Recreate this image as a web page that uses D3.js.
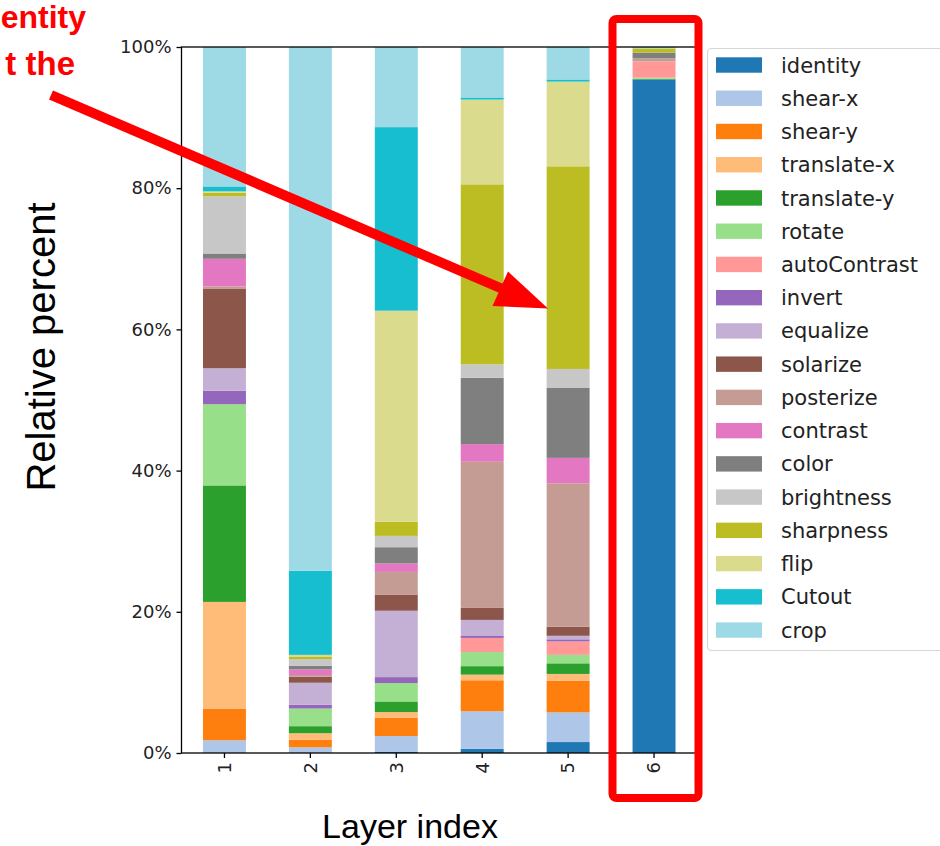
<!DOCTYPE html>
<html>
<head>
<meta charset="utf-8">
<script src="https://cdn.jsdelivr.net/npm/d3@7"></script>
<style>
  html, body { margin: 0; padding: 0; background: #fff; }
  svg { display: block; }
</style>
</head>
<body>
<svg id="chart" width="940" height="846"></svg>
<script>
// ---------------- data ----------------
const layers = ["1", "2", "3", "4", "5", "6"];
const ops = ["identity", "shear-x", "shear-y", "translate-x", "translate-y", "rotate",
  "autoContrast", "invert", "equalize", "solarize", "posterize", "contrast", "color",
  "brightness", "sharpness", "flip", "Cutout", "crop"];

const identity     = [0,     0,    0.2,  0.6,  1.55, 95.4];
const shearX       = [1.8,   0.8,  2.2,  5.3,  4.2,  0];
const shearY       = [4.5,   1.1,  2.6,  4.4,  4.5,  0];
const translateX   = [15.1,  0.9,  0.8,  0.8,  0.95, 0];
const translateY   = [16.5,  1.0,  1.5,  1.2,  1.5,  0.1];
const rotateV      = [11.5,  2.5,  2.6,  2.0,  1.2,  0.15];
const autoContrast = [0,     0,    0,    2.0,  1.9,  2.3];
const invert       = [1.9,   0.55, 0.85, 0.35, 0.3,  0];
const equalize     = [3.2,   3.1,  9.4,  2.2,  0.5,  0];
const solarize     = [11.3,  0.85, 2.3,  1.7,  1.3,  0];
const posterize    = [0.3,   0.25, 3.2,  20.7, 20.3, 0.45];
const contrastV    = [3.9,   0.8,  1.2,  2.5,  3.6,  0];
const colorV       = [0.75,  0.5,  2.3,  9.4,  9.9,  0.8];
const brightness   = [8.1,   0.95, 1.6,  1.9,  2.7,  0];
const sharpness    = [0.5,   0.3,  2.0,  25.5, 28.7, 0.6];
const flip         = [0.2,   0.3,  29.9, 12.0, 12.0, 0];
const cutout       = [0.7,   11.9, 26.0, 0.3,  0.3,  0];
const crop         = [19.75, 74.2, 11.35, 7.15, 4.6, 0.2];

const yTicks = [0, 0.2, 0.4, 0.6, 0.8, 1.0];

// tab20 palette
const palette = ["#1f77b4", "#aec7e8", "#ff7f0e", "#ffbb78", "#2ca02c", "#98df8a",
  "#ff9896", "#9467bd", "#c5b0d5", "#8c564b", "#c49c94", "#e377c2", "#7f7f7f",
  "#c7c7c7", "#bcbd22", "#dbdb8d", "#17becf", "#9edae5"];

const seriesValues = [identity, shearX, shearY, translateX, translateY, rotateV,
  autoContrast, invert, equalize, solarize, posterize, contrastV, colorV,
  brightness, sharpness, flip, cutout, crop];

// table built from arrays
const table = layers.map((l, i) => {
  const row = { layer: l };
  ops.forEach((op, j) => { row[op] = seriesValues[j][i]; });
  return row;
});

// ---------------- layout ----------------
const svg = d3.select("#chart");
const mLeft = 181.5, mRight = 697, mTop = 47, mBottom = 753;
const tickFont = "'DejaVu Sans', sans-serif";
const labelFont = "'Liberation Sans', Arial, sans-serif";

const x = d3.scaleBand().domain(layers).range([mLeft, mRight])
  .paddingInner(0.5).paddingOuter(0.25);
const y = d3.scaleLinear().domain([0, 1]).range([mBottom, mTop]);
const c = d3.scaleOrdinal().domain(ops).range(palette);

const stacked = d3.stack().keys(ops).offset(d3.stackOffsetExpand)(table);

svg.append("rect").attr("width", 940).attr("height", 846).attr("fill", "#fff");

svg.append("g").selectAll("g").data(stacked).join("g")
  .attr("fill", d => c(d.key))
  .selectAll("rect").data(d => d).join("rect")
  .attr("x", d => x(d.data.layer))
  .attr("width", x.bandwidth())
  .attr("y", d => y(d[1]))
  .attr("height", d => Math.max(0, y(d[0]) - y(d[1])));

// axes frame
svg.append("rect").attr("x", mLeft).attr("y", mTop)
  .attr("width", mRight - mLeft).attr("height", mBottom - mTop)
  .attr("fill", "none").attr("stroke", "#000").attr("stroke-width", 1.3);

const yAxis = svg.append("g").attr("transform", `translate(${mLeft},0)`)
  .call(d3.axisLeft(y).tickValues(yTicks).tickFormat(d3.format(".0%")).tickSize(5).tickPadding(5));
yAxis.select(".domain").remove();
yAxis.selectAll("line").attr("stroke", "#000").attr("stroke-width", 1.3);
yAxis.selectAll("text").attr("font-family", tickFont).attr("font-size", 18).attr("fill", "#222");

const xAxis = svg.append("g").attr("transform", `translate(0,${mBottom})`)
  .call(d3.axisBottom(x).tickSize(5).tickPadding(8));
xAxis.select(".domain").remove();
xAxis.selectAll("line").attr("stroke", "#000").attr("stroke-width", 1.3);
xAxis.selectAll("text")
  .attr("font-family", tickFont).attr("font-size", 18).attr("fill", "#222")
  .attr("text-anchor", "end")
  .attr("transform", "translate(0,1) rotate(-90)")
  .attr("x", -8).attr("y", 0).attr("dy", "0.35em");

// axis labels
svg.append("text").attr("transform", "translate(55,347) rotate(-90)")
  .attr("text-anchor", "middle").attr("font-family", labelFont).attr("font-size", 40)
  .attr("fill", "#000").text("Relative percent");
svg.append("text").attr("x", 410).attr("y", 838)
  .attr("text-anchor", "middle").attr("font-family", labelFont).attr("font-size", 34)
  .attr("fill", "#000").text("Layer index");

// legend
const lg = svg.append("g");
lg.append("rect").attr("x", 707.5).attr("y", 48.5).attr("width", 240).attr("height", 602)
  .attr("rx", 4).attr("fill", "#fff").attr("stroke", "#d6d6d6").attr("stroke-width", 1.2);
const rowH = 33.24;
const items = lg.selectAll("g.item").data(ops).join("g").attr("class", "item")
  .attr("transform", (d, i) => `translate(0,${65 + i * rowH})`);
items.append("rect").attr("x", 716).attr("y", -7.7).attr("width", 46).attr("height", 15.4)
  .attr("fill", d => c(d));
items.append("text").attr("x", 781).attr("y", 0).attr("dy", "0.36em")
  .attr("font-family", tickFont).attr("font-size", 21).attr("fill", "#222").text(d => d);

// red annotations
const red = "#ff0000";
svg.append("rect").attr("x", 612.5).attr("y", 19).attr("width", 86).attr("height", 779)
  .attr("rx", 4).attr("fill", "none").attr("stroke", red).attr("stroke-width", 8);

svg.append("line").attr("x1", 51).attr("y1", 95).attr("x2", 505).attr("y2", 290)
  .attr("stroke", red).attr("stroke-width", 10);
svg.append("polygon").attr("points", "548,308.5 508,271.5 492.5,306")
  .attr("fill", red);

svg.append("text").attr("x", 86).attr("y", 28).attr("text-anchor", "end")
  .attr("font-family", labelFont).attr("font-weight", "bold").attr("font-size", 32)
  .attr("fill", red).text("entity");
svg.append("text").attr("x", 75).attr("y", 75).attr("text-anchor", "end")
  .attr("font-family", labelFont).attr("font-weight", "bold").attr("font-size", 33)
  .attr("fill", red).text("t the");
</script>
</body>
</html>
